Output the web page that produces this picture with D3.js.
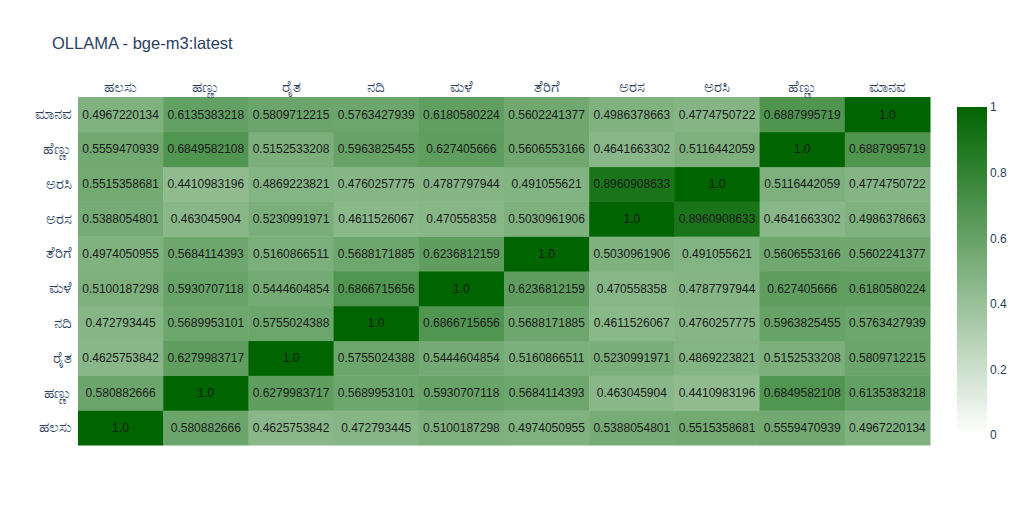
<!DOCTYPE html>
<html>
<head>
<meta charset="utf-8">
<script src="https://cdn.jsdelivr.net/npm/d3@7"></script>
<style>
  body { margin: 0; background: #fff; }
  text { font-family: "Liberation Sans", Arial, sans-serif; }
</style>
</head>
<body>
<div id="chart"></div>
<script>
// words, in axis order (bottom-to-top for rows, left-to-right for columns)
const labels = ["ಹಲಸು", "ಹಣ್ಣು", "ರೈತ", "ನದಿ", "ಮಳೆ", "ತೆರಿಗೆ", "ಅರಸ", "ಅರಸಿ", "ಹೆಣ್ಣು", "ಮಾನವ"];

// cosine similarity, one row per word (same order as labels)
const similarity = [
    [1.0, 0.580882666, 0.4625753842, 0.472793445, 0.5100187298, 0.4974050955, 0.5388054801, 0.5515358681, 0.5559470939, 0.4967220134],
    [0.580882666, 1.0, 0.6279983717, 0.5689953101, 0.5930707118, 0.5684114393, 0.463045904, 0.4410983196, 0.6849582108, 0.6135383218],
    [0.4625753842, 0.6279983717, 1.0, 0.5755024388, 0.5444604854, 0.5160866511, 0.5230991971, 0.4869223821, 0.5152533208, 0.5809712215],
    [0.472793445, 0.5689953101, 0.5755024388, 1.0, 0.6866715656, 0.5688171885, 0.4611526067, 0.4760257775, 0.5963825455, 0.5763427939],
    [0.5100187298, 0.5930707118, 0.5444604854, 0.6866715656, 1.0, 0.6236812159, 0.470558358, 0.4787797944, 0.627405666, 0.6180580224],
    [0.4974050955, 0.5684114393, 0.5160866511, 0.5688171885, 0.6236812159, 1.0, 0.5030961906, 0.491055621, 0.5606553166, 0.5602241377],
    [0.5388054801, 0.463045904, 0.5230991971, 0.4611526067, 0.470558358, 0.5030961906, 1.0, 0.8960908633, 0.4641663302, 0.4986378663],
    [0.5515358681, 0.4410983196, 0.4869223821, 0.4760257775, 0.4787797944, 0.491055621, 0.8960908633, 1.0, 0.5116442059, 0.4774750722],
    [0.5559470939, 0.6849582108, 0.5152533208, 0.5963825455, 0.627405666, 0.5606553166, 0.4641663302, 0.5116442059, 1.0, 0.6887995719],
    [0.4967220134, 0.6135383218, 0.5809712215, 0.5763427939, 0.6180580224, 0.5602241377, 0.4986378663, 0.4774750722, 0.6887995719, 1.0]
];

const colorTicks = [0, 0.2, 0.4, 0.6, 0.8, 1];

const W = 1024, H = 523;
const margin = { top: 97, right: 94, bottom: 78, left: 78 };
const width = W - margin.left - margin.right;
const height = H - margin.top - margin.bottom;
const fontColor = "#2a3f5f";

const svg = d3.select("#chart").append("svg")
    .attr("width", W)
    .attr("height", H);

svg.append("text")
    .attr("x", 52)
    .attr("y", 49)
    .style("font-size", "16.5px")
    .style("fill", fontColor)
    .text("OLLAMA - bge-m3:latest");

const g = svg.append("g")
    .attr("transform", `translate(${margin.left},${margin.top})`);

const x = d3.scaleBand().domain(labels).range([0, width]);
const y = d3.scaleBand().domain(labels).range([height, 0]);
const color = d3.scaleLinear().domain([0, 1]).range(["#ffffff", "#006400"]);

// flatten matrix into cells
const cells = [];
similarity.forEach((row, i) => {
    row.forEach((v, j) => cells.push({ row: labels[i], col: labels[j], value: v }));
});

g.selectAll(".cell")
    .data(cells)
    .enter().append("rect")
    .attr("class", "cell")
    .attr("x", d => x(d.col))
    .attr("y", d => y(d.row))
    .attr("width", x.bandwidth() + 0.5)
    .attr("height", y.bandwidth() + 0.5)
    .style("fill", d => color(d.value));

g.selectAll(".cell-label")
    .data(cells)
    .enter().append("text")
    .attr("class", "cell-label")
    .attr("x", d => x(d.col) + x.bandwidth() / 2)
    .attr("y", d => y(d.row) + y.bandwidth() / 2)
    .attr("dy", "0.35em")
    .attr("text-anchor", "middle")
    .style("font-size", "12px")
    .style("fill", "#1a1a1a")
    .text(d => d.value === 1 ? "1.0" : String(d.value));

// axes: columns on top, rows on the left
const xAxis = g.append("g")
    .call(d3.axisTop(x).tickSize(0).tickPadding(5));
const yAxis = g.append("g")
    .call(d3.axisLeft(y).tickSize(0).tickPadding(6));

[xAxis, yAxis].forEach(a => {
    a.select(".domain").remove();
    a.selectAll("text")
        .style("font-size", "15px")
        .style("fill", fontColor)
        .style("font-family", "'Noto Sans', 'Liberation Sans', sans-serif");
});

// colorbar
const cbX = 957, cbW = 30, cbTop = margin.top + 10, cbBottom = margin.top + height - 10;
const cbScale = d3.scaleLinear().domain([0, 1]).range([cbBottom, cbTop]);

const grad = svg.append("defs").append("linearGradient")
    .attr("id", "cbGrad")
    .attr("x1", 0).attr("y1", 1).attr("x2", 0).attr("y2", 0);
grad.append("stop").attr("offset", "0%").attr("stop-color", color(0));
grad.append("stop").attr("offset", "100%").attr("stop-color", color(1));

svg.append("rect")
    .attr("x", cbX)
    .attr("y", cbTop)
    .attr("width", cbW)
    .attr("height", cbBottom - cbTop)
    .style("fill", "url(#cbGrad)");

const cbAxis = svg.append("g")
    .attr("transform", `translate(${cbX + cbW},0)`)
    .call(d3.axisRight(cbScale).tickValues(colorTicks).tickSize(0).tickPadding(3).tickFormat(d3.format("")));
cbAxis.select(".domain").remove();
cbAxis.selectAll("text")
    .style("font-size", "12px")
    .style("fill", fontColor);
</script>
</body>
</html>
